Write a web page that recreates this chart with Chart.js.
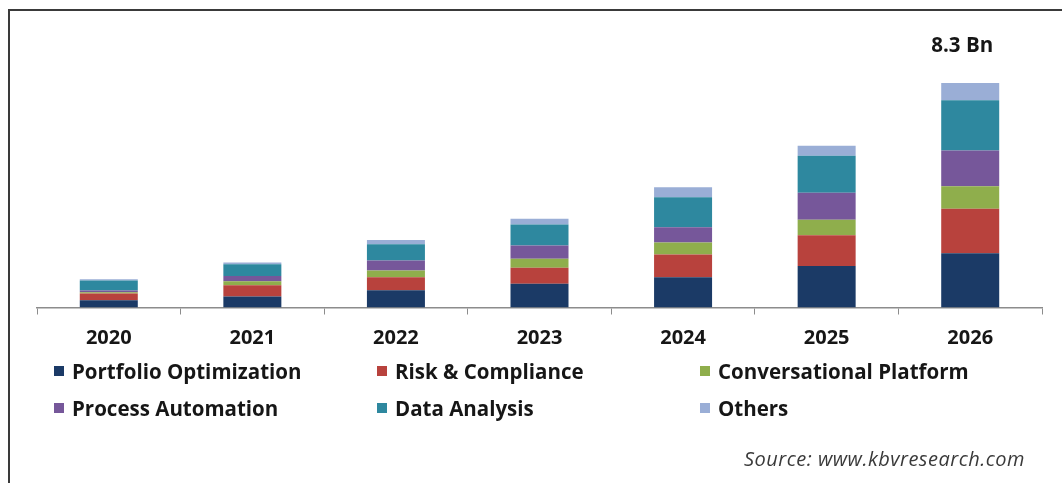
<!DOCTYPE html>
<html>
<head>
<meta charset="utf-8">
<script src="https://cdn.jsdelivr.net/npm/chart.js@4/dist/chart.umd.min.js"></script>
<style>
  html, body { margin: 0; padding: 0; background: #fff; }
  body { width: 1062px; height: 483px; position: relative; overflow: hidden; font-family: "Open Sans", Lato, sans-serif; }
  #frame { position: absolute; left: 8px; top: 9px; width: 2000px; height: 1000px; border-top: 2px solid #3a3a3a; border-left: 2px solid #3a3a3a; box-sizing: border-box; }
  #wrap { position: absolute; left: 0; top: 0; width: 1062px; height: 483px; }
  #legend { position: absolute; left: 54px; top: 352px; display: grid; grid-template-columns: 323px 323px 323px; grid-auto-rows: 37px; }
  .item { display: flex; align-items: center; font-weight: bold; font-size: 20.5px; color: #161616; white-space: nowrap; height: 37px; }
  .sw { width: 10px; height: 10px; margin-right: 8px; flex: none; }
  #source { position: absolute; right: 37px; top: 445px; font-style: italic; font-size: 20px; letter-spacing: 0.5px; color: #3a3a3a; }
</style>
</head>
<body>
<div id="frame"></div>
<div id="wrap"><canvas id="chart" width="1062" height="483"></canvas></div>
<div id="legend"></div>
<div id="source">Source: www.kbvresearch.com</div>
<script>
// Market size by segment, USD billion
const years = ['2020', '2021', '2022', '2023', '2024', '2025', '2026'];
const portfolioOptimization = [0.27, 0.41, 0.64, 0.88, 1.12, 1.53, 2.01];
const riskCompliance        = [0.25, 0.41, 0.48, 0.59, 0.84, 1.14, 1.64];
const conversationalPlatform = [0.04, 0.15, 0.25, 0.33, 0.44, 0.57, 0.83];
const processAutomation     = [0.07, 0.19, 0.37, 0.49, 0.57, 1.00, 1.32];
const dataAnalysis          = [0.37, 0.44, 0.60, 0.78, 1.11, 1.37, 1.86];
const others                = [0.04, 0.06, 0.16, 0.21, 0.37, 0.37, 0.64];
const seriesNames = ['Portfolio Optimization', 'Risk & Compliance', 'Conversational Platform',
                     'Process Automation', 'Data Analysis', 'Others'];
const seriesColors = ['#1b3a66', '#b8423d', '#8fae4c', '#76579a', '#2e889f', '#9aaed6'];
const seriesValues = [portfolioOptimization, riskCompliance, conversationalPlatform,
                      processAutomation, dataAnalysis, others];

const FONT = '"Open Sans", Lato, sans-serif';

// Total label above the last bar
const totalLabel = {
  id: 'totalLabel',
  afterDatasetsDraw(chart) {
    const idx = years.length - 1;
    const total = chart.data.datasets.reduce((s, d) => s + d.data[idx], 0);
    const x = chart.scales.x.getPixelForValue(idx);
    const y = chart.scales.y.getPixelForValue(total);
    const ctx = chart.ctx;
    ctx.save();
    ctx.font = 'bold 20.5px ' + FONT;
    ctx.fillStyle = '#161616';
    ctx.textAlign = 'center';
    ctx.textBaseline = 'middle';
    ctx.fillText(total.toFixed(1) + ' Bn', x - 8, y - 37);
    ctx.restore();
  }
};

const chart = new Chart(document.getElementById('chart'), {
  type: 'bar',
  data: {
    labels: years,
    datasets: seriesNames.map((name, i) => ({
      label: name,
      data: seriesValues[i],
      backgroundColor: seriesColors[i],
      borderWidth: 0,
      barPercentage: 0.404,
      categoryPercentage: 1
    }))
  },
  options: {
    responsive: false,
    animation: false,
    layout: { padding: { top: 37, left: 37, right: 20, bottom: 125.5 } },
    plugins: { legend: { display: false }, tooltip: { enabled: false } },
    scales: {
      x: {
        stacked: true,
        offset: true,
        grid: { offset: true, drawOnChartArea: false, drawTicks: true, tickLength: 7, color: '#8c8c8c', lineWidth: 1 },
        border: { display: true, color: '#8c8c8c', width: 1.5 },
        ticks: { font: { family: FONT, size: 20, weight: 'bold' }, color: '#161616', padding: 12 },
        afterFit(scale) { scale.height = 50; }
      },
      y: { stacked: true, display: false, min: 0, max: 10 }
    }
  },
  plugins: [totalLabel]
});

// Legend built from the chart's datasets
const legend = document.getElementById('legend');
chart.data.datasets.forEach(ds => {
  const item = document.createElement('div');
  item.className = 'item';
  const sw = document.createElement('span');
  sw.className = 'sw';
  sw.style.background = ds.backgroundColor;
  item.appendChild(sw);
  item.appendChild(document.createTextNode(ds.label));
  legend.appendChild(item);
});
</script>
</body>
</html>
